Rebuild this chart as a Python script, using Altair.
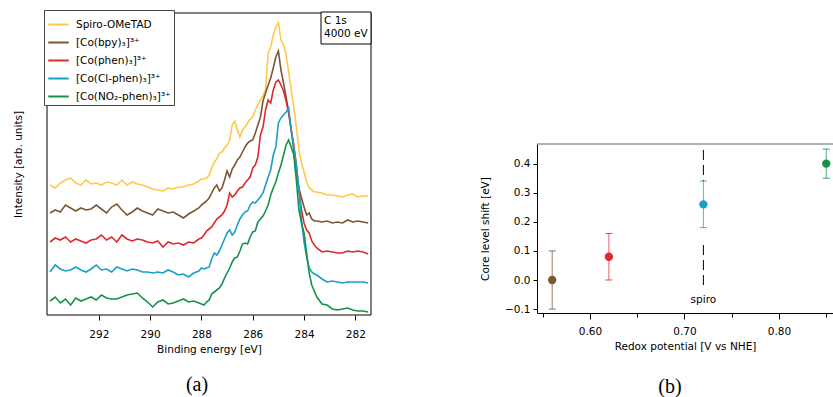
import altair as alt
import pandas as pd

# ---------------- data: panel (a) C 1s spectra ----------------
energy = [293.9, 293.7, 293.5, 293.3, 293.1, 292.9, 292.7, 292.5, 292.3, 292.1,
          291.9, 291.7, 291.5, 291.3, 291.1, 290.9, 290.7, 290.5, 290.3, 290.1,
          289.9, 289.7, 289.5, 289.3, 289.1, 288.9, 288.7, 288.5, 288.3, 288.1,
          288.0, 287.9, 287.8, 287.7, 287.6, 287.5, 287.4, 287.3, 287.2, 287.1,
          287.0, 286.9, 286.8, 286.7, 286.6, 286.5, 286.4, 286.3, 286.2, 286.1,
          286.0, 285.9, 285.8, 285.7, 285.6, 285.5, 285.4, 285.3, 285.2, 285.1,
          285.0, 284.9, 284.8, 284.7, 284.6, 284.5, 284.4, 284.3, 284.2, 284.1,
          284.0, 283.9, 283.8, 283.7, 283.6, 283.5,
          283.3, 283.1, 282.9, 282.7, 282.5, 282.3, 282.1, 281.9, 281.7, 281.5]

spiro = [130, 127, 132, 135, 137, 132, 130, 135, 131, 132,
         130, 133, 132, 130, 135, 130, 133, 131, 130, 128,
         126, 125, 124, 127, 126, 128, 128, 130, 131, 134,
         136, 136, 137, 140, 147, 153, 156, 162, 163, 167,
         170, 175, 190, 194, 185, 178, 185, 188, 192, 196,
         198, 205, 210, 215, 219, 226, 262, 268, 280, 288,
         292, 275, 270, 260, 243, 225, 208, 188, 165, 152,
         143, 133, 127, 125, 123, 123,
         122, 120, 120, 119, 118, 120, 121, 118, 119, 119]

bpy = [102, 105, 103, 110, 107, 104, 107, 105, 106, 110,
       106, 102, 108, 111, 105, 100, 103, 107, 104, 102,
       100, 106, 104, 102, 103, 100, 97, 101, 104, 107,
       110, 112, 114, 117, 122, 127, 130, 124, 127, 135,
       144, 138, 146, 150, 155, 158, 163, 168, 172, 174,
       175, 182, 190, 198, 214, 222, 230, 237, 247, 258,
       264, 245, 232, 218, 203, 185, 165, 140, 127, 117,
       108, 100, 102, 96, 94, 94,
       93, 94, 92, 93, 92, 95, 93, 94, 93, 92]

phen = [73, 77, 75, 78, 73, 76, 74, 72, 75, 76,
        80, 75, 78, 73, 80, 76, 74, 76, 75, 73,
        72, 74, 68, 73, 71, 72, 70, 73, 72, 76,
        77, 80, 84, 86, 88, 92, 96, 98, 100, 104,
        110, 122, 118, 120, 124, 127, 128, 132, 135, 138,
        147, 150, 158, 180, 188, 205, 215, 212, 225, 233,
        235, 230, 224, 214, 202, 185, 170, 150, 125, 105,
        92, 85, 82, 74, 70, 67,
        63, 64, 63, 62, 62, 64, 63, 64, 63, 61]

clphen = [43, 50, 46, 44, 45, 48, 45, 43, 46, 50,
          45, 46, 43, 48, 46, 44, 46, 45, 43, 43,
          42, 43, 42, 45, 43, 40, 41, 38, 42, 44,
          47, 46, 47, 48, 56, 62, 60, 64, 70, 76,
          82, 85, 80, 83, 90, 96, 100, 103, 104, 110,
          113, 112, 115, 118, 122, 130, 138, 145, 160, 168,
          192, 197, 200, 203, 207, 185, 168, 150, 125, 95,
          73, 58, 47, 43, 41, 40,
          36, 33, 34, 33, 32, 33, 33, 33, 33, 32]

no2phen = [14, 18, 12, 16, 10, 17, 14, 16, 18, 15,
           20, 17, 16, 16, 18, 20, 21, 22, 17, 13,
           8, 13, 15, 11, 12, 14, 16, 13, 14, 12,
           11, 10, 13, 15, 21, 23, 25, 27, 31, 37,
           42, 47, 53, 57, 58, 64, 71, 72, 71, 78,
           83, 84, 93, 96, 99, 104, 110, 120, 127, 133,
           142, 150, 160, 170, 175, 168, 160, 135, 105, 92,
           82, 62, 42, 30, 24, 18,
           11, 10, 6, 5, 6, 7, 5, 4, 4, 3]

names = ["Spiro-OMeTAD", "[Co(bpy)₃]³⁺", "[Co(phen)₃]³⁺",
         "[Co(Cl-phen)₃]³⁺", "[Co(NO₂-phen)₃]³⁺"]
series = [spiro, bpy, phen, clphen, no2phen]

# ---------------- data: panel (b) core level shift ----------------
cobalt = names[1:]
redox = [0.56, 0.62, 0.72, 0.85]
shift = [0.00, 0.08, 0.26, 0.40]
err = [0.10, 0.08, 0.08, 0.05]

spiro_redox = [0.72, 0.72]
spiro_top = [0.447, 0.12]
spiro_bottom = [0.34, -0.024]
spiro_label_y = -0.068

# ---------------- styles ----------------
colors = ["#FFC84C", "#7B5733", "#DC2A2E", "#1A9FC9", "#14924A"]
FONT = "DejaVu Sans"
SERIF = "Liberation Serif"
FS = 10.5

rows = []
for nm, vals in zip(names, series):
    for e, v in zip(energy, vals):
        rows.append({"sample": nm, "energy": e, "intensity": v})
spec = pd.DataFrame(rows)

pts = pd.DataFrame({"sample": cobalt, "redox": redox, "shift": shift,
                    "lo": [s - e for s, e in zip(shift, err)],
                    "hi": [s + e for s, e in zip(shift, err)]})
dash = pd.DataFrame({"redox": spiro_redox, "top": spiro_top, "bottom": spiro_bottom})
lab = pd.DataFrame({"redox": [0.72], "y": [spiro_label_y], "t": ["spiro"]})
one = pd.DataFrame({"a": [0]})

color_scale = alt.Scale(domain=names, range=colors)

# ---------------- panel (a) ----------------
xl = alt.Scale(domain=[294.02, 281.39], range=[0, 324], nice=False, zero=False)
yl = alt.Scale(domain=[0, 302], range=[302, 0], nice=False, zero=False)

lines = alt.Chart(spec).mark_line(strokeWidth=1.6).encode(
    x=alt.X("energy:Q", scale=xl,
            axis=alt.Axis(orient="bottom", values=[292, 290, 288, 286, 284, 282],
                          format="d", title="Binding energy [eV]", domain=False,
                          tickSize=5, labelPadding=9, titlePadding=5)),
    y=alt.Y("intensity:Q", scale=yl,
            axis=alt.Axis(orient="left", labels=False, ticks=False, domain=False,
                          title="Intensity [arb. units]", titlePadding=24)),
    color=alt.Color("sample:N", scale=color_scale,
                    legend=alt.Legend(title=None, orient="none", legendX=-3, legendY=-3,
                                      symbolType="stroke", symbolSize=420,
                                      symbolStrokeWidth=2, labelFont=FONT,
                                      labelFontSize=FS, labelColor="black",
                                      strokeColor="#444", fillColor="white",
                                      padding=3, rowPadding=1, labelOffset=6,
                                      labelLimit=300)),
)

frame = alt.Chart(one).mark_rect(fill="transparent", stroke="black", strokeWidth=1).encode(
    x=alt.value(0), x2=alt.value(324), y=alt.value(0), y2=alt.value(302))

cbox = alt.Chart(one).mark_rect(fill="white", stroke="black", strokeWidth=1).encode(
    x=alt.value(274), x2=alt.value(324), y=alt.value(-1), y2=alt.value(31))
ctext = alt.Chart(one).mark_text(align="left", baseline="top", font=FONT, fontSize=FS,
                                 lineHeight=12.5, color="black",
                                 text=["C 1s", "4000 eV"]).encode(
    x=alt.value(277), y=alt.value(3))
cap_a = alt.Chart(one).mark_text(font=SERIF, fontSize=20, color="black",
                                 align="center", baseline="middle").encode(
    x=alt.value(150), y=alt.value(372), text=alt.value("(a)"))

left = alt.layer(frame, lines, cbox, ctext, cap_a)

# ---------------- panel (b) ----------------
xr = alt.Scale(domain=[0.54392, 0.85714], range=[490, 786], nice=False, zero=False)
yr = alt.Scale(domain=[-0.1134, 0.4674], range=[300, 131], nice=False, zero=False)

major = "abs(datum.value*10 - round(datum.value*10)) < 0.001"
x_axis_r = alt.Axis(orient="bottom", offset=-2, values=[0.55, 0.6, 0.65, 0.7, 0.75, 0.8, 0.85],
                    labelExpr=f"{major} ? format(datum.value, '.2f') : ''",
                    tickSize={"condition": {"test": major, "value": 6}, "value": 4},
                    title="Redox potential [V vs NHE]", labelPadding=7, titlePadding=5)
y_axis_r = alt.Axis(orient="left", offset=-490, values=[-0.1, 0, 0.1, 0.2, 0.3, 0.4],
                    format=".1f", tickSize=4, labelPadding=3,
                    title="Core level shift [eV]", titlePadding=14)

XR = alt.X("redox:Q", scale=xr, axis=x_axis_r)


def YR(field):
    return alt.Y(field, scale=yr, axis=y_axis_r)


col_r = alt.Color("sample:N", scale=color_scale, legend=None)

top_line = alt.Chart(one).mark_rule(color="#666", strokeWidth=1).encode(
    x=alt.value(490), x2=alt.value(786), y=alt.value(131))
dashes = alt.Chart(dash).mark_rule(color="black", strokeWidth=1, strokeDash=[10, 5]).encode(
    x=XR, y=YR("top:Q"), y2="bottom:Q")
bars = alt.Chart(pts).mark_rule(strokeWidth=1, opacity=0.75).encode(
    x=XR, y=YR("lo:Q"), y2="hi:Q", color=col_r)
caps_lo = alt.Chart(pts).mark_tick(orient="horizontal", size=7, thickness=1, opacity=0.85).encode(
    x=XR, y=YR("lo:Q"), color=col_r)
caps_hi = alt.Chart(pts).mark_tick(orient="horizontal", size=7, thickness=1, opacity=0.85).encode(
    x=XR, y=YR("hi:Q"), color=col_r)
dots = alt.Chart(pts).mark_circle(size=70, opacity=1).encode(
    x=XR, y=YR("shift:Q"), color=col_r)
spiro_txt = alt.Chart(lab).mark_text(font=FONT, fontSize=FS, color="black",
                                     align="center", baseline="middle").encode(
    x=XR, y=YR("y:Q"), text="t:N")
cap_b = alt.Chart(one).mark_text(font=SERIF, fontSize=20, color="black",
                                 align="center", baseline="middle").encode(
    x=alt.value(623), y=alt.value(374), text=alt.value("(b)"))

right = alt.layer(top_line, dashes, bars, caps_lo, caps_hi, dots, spiro_txt, cap_b)

chart = alt.layer(left, right).resolve_scale(
    x="independent", y="independent", color="independent"
).properties(
    width=786, height=302,
    padding={"left": 47, "top": 13, "right": 0, "bottom": 82},
    autosize=alt.AutoSizeParams(type="none"),
).configure_view(stroke="transparent").configure_axis(
    grid=False, labelFont=FONT, titleFont=FONT, labelFontSize=FS, titleFontSize=FS,
    titleFontWeight="normal", labelColor="black", titleColor="black",
    domainColor="black", tickColor="black", domainWidth=1, tickWidth=1,
)

chart.save("out.html", embed_options={"renderer": "svg", "actions": False})
